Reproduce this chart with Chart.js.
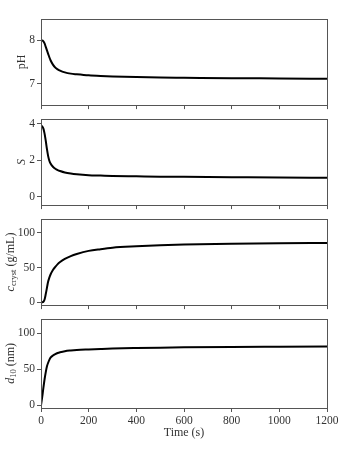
<!DOCTYPE html>
<html>
<head>
<meta charset="utf-8">
<script src="https://cdn.jsdelivr.net/npm/chart.js"></script>
<style>
  body { margin: 0; background: #fff; }
  #wrap { position: relative; width: 341px; height: 454px; }
  #wrap canvas { position: absolute; left: 0; }
</style>
</head>
<body>
<div id="wrap">
  <canvas id="p0"></canvas>
  <canvas id="p1"></canvas>
  <canvas id="p2"></canvas>
  <canvas id="p3"></canvas>
</div>
<script>
// sample times (s), shared by every trace
const time = [0, 5, 10, 15, 20, 25, 30, 35, 40, 50, 60, 70, 80, 100, 125, 150, 200, 250, 300, 400, 500, 600, 800, 1000, 1200];
const phVals = [8.0, 8.0, 7.98, 7.93, 7.85, 7.77, 7.69, 7.61, 7.54, 7.44, 7.37, 7.33, 7.30, 7.26, 7.23, 7.215, 7.19, 7.175, 7.165, 7.15, 7.14, 7.135, 7.125, 7.118, 7.11];
const supersat = [3.87, 3.84, 3.72, 3.45, 3.05, 2.6, 2.22, 1.97, 1.82, 1.64, 1.53, 1.46, 1.41, 1.33, 1.27, 1.23, 1.18, 1.16, 1.14, 1.12, 1.10, 1.09, 1.07, 1.05, 1.04];
const cCryst = [0, 0.1, 0.8, 4, 12, 21, 30, 35.5, 40, 46.5, 51, 55, 58, 62.5, 66.5, 69.5, 74, 76.5, 78.5, 80.5, 82, 83, 84.2, 85, 85.5];
const d10 = [0, 11, 24, 36, 46, 54, 59, 63, 66, 69, 71, 72.5, 73.5, 75, 76, 76.7, 77.5, 78.2, 78.8, 79.5, 80, 80.4, 80.9, 81.2, 81.5];

const xTicks = [0, 200, 400, 600, 800, 1000, 1200];
const phTicks = [7, 8];
const sTicks = [0, 2, 4];
const cTicks = [0, 50, 100];
const dTicks = [0, 50, 100];

const SERIF = '"Liberation Serif", "DejaVu Serif", serif';
const AXIS = "#555";
const TEXT = "#333";
const TICK_FONT = { family: SERIF, size: 11.5 };

// panel setup: page top of plot box, y range, ticks, label parts, label x
const panels = [
  { id: "p0", top: 18, vals: phVals, min: 6.5, max: 8.5, ticks: phTicks, labX: 21,
    label: [{ t: "pH", f: "12px " + SERIF }] },
  { id: "p1", top: 118, vals: supersat, min: -0.45, max: 4.25, ticks: sTicks, labX: 20.5,
    label: [{ t: "S", f: "italic 12px " + SERIF }] },
  { id: "p2", top: 218, vals: cCryst, min: -4, max: 120, ticks: cTicks, labX: 9.5,
    label: [{ t: "c", f: "italic 12px " + SERIF }, { t: "cryst", f: "8.5px " + SERIF, sub: true }, { t: " (g/mL)", f: "12px " + SERIF }] },
  { id: "p3", top: 318, vals: d10, min: -4, max: 120, ticks: dTicks, labX: 9.5,
    label: [{ t: "d", f: "italic 12px " + SERIF }, { t: "10", f: "8.5px " + SERIF, sub: true }, { t: " (nm)", f: "12px " + SERIF }] },
];

const PLOT_H = 90;
const PAD_TOP = 8;

// box around the plot area + rotated y label with subscripts
const framePlugin = {
  id: "frame",
  afterDraw(chart, args, opts) {
    const { ctx, chartArea: a } = chart;
    ctx.save();
    ctx.strokeStyle = AXIS;
    ctx.lineWidth = 1;
    ctx.strokeRect(Math.round(a.left) + 0.5, Math.round(a.top) + 0.5,
      Math.round(a.right - a.left), Math.round(a.bottom - a.top));

    const parts = opts.label || [];
    let total = 0;
    parts.forEach((p) => { ctx.font = p.f; p.w = ctx.measureText(p.t).width; total += p.w; });
    const yc = (a.top + a.bottom) / 2;
    ctx.translate(opts.x, yc);
    ctx.rotate(-Math.PI / 2);
    ctx.fillStyle = TEXT;
    ctx.textBaseline = "alphabetic";
    let x = -total / 2;
    parts.forEach((p) => {
      ctx.font = p.f;
      ctx.fillText(p.t, x, p.sub ? 6 : 4);
      x += p.w;
    });
    ctx.restore();
  },
};

panels.forEach((p, i) => {
  const last = i === panels.length - 1;
  const axisH = last ? 454 - (p.top + PLOT_H) : 6;
  const canvas = document.getElementById(p.id);
  canvas.width = 341;
  canvas.height = PAD_TOP + PLOT_H + axisH;
  canvas.style.top = (p.top - PAD_TOP) + "px";

  new Chart(canvas, {
    type: "line",
    data: {
      datasets: [{
        data: time.map((t, k) => ({ x: t, y: p.vals[k] })),
        borderColor: "#000",
        borderWidth: 2,
        pointRadius: 0,
        cubicInterpolationMode: "monotone",
        fill: false,
      }],
    },
    options: {
      responsive: false,
      animation: false,
      devicePixelRatio: 1,
      layout: { padding: { top: PAD_TOP, right: 14, left: 0, bottom: 0 } },
      plugins: {
        legend: { display: false },
        tooltip: { enabled: false },
        frame: { label: p.label, x: p.labX },
      },
      scales: {
        x: {
          type: "linear",
          min: 0,
          max: 1200,
          afterBuildTicks: (s) => { s.ticks = xTicks.map((v) => ({ value: v })); },
          afterFit: (s) => { s.height = axisH; },
          ticks: { display: last, autoSkip: false, maxRotation: 0, padding: 2,
            color: TEXT, font: TICK_FONT, callback: (v) => String(v) },
          grid: { drawOnChartArea: false, drawTicks: true, tickLength: 4, color: AXIS },
          border: { display: false },
          title: { display: last, text: "Time (s)", color: TEXT,
            font: { family: SERIF, size: 12 }, padding: { top: 0, bottom: 14 } },
        },
        y: {
          min: p.min,
          max: p.max,
          afterBuildTicks: (s) => { s.ticks = p.ticks.map((v) => ({ value: v })); },
          afterFit: (s) => { s.width = 41; },
          ticks: { autoSkip: false, padding: 2, color: TEXT, font: TICK_FONT,
            callback: (v) => String(v) },
          grid: { drawOnChartArea: false, drawTicks: true, tickLength: 4, color: AXIS },
          border: { display: false },
        },
      },
    },
    plugins: [framePlugin],
  });
});
</script>
</body>
</html>
